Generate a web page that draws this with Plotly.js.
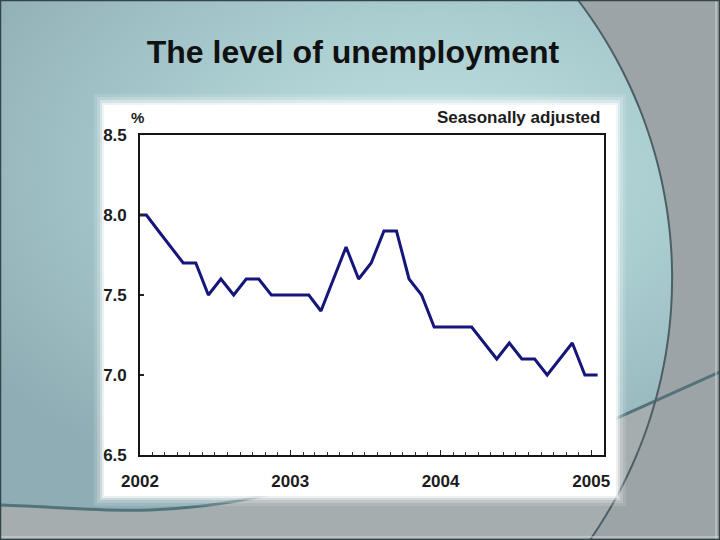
<!DOCTYPE html>
<html>
<head>
<meta charset="utf-8">
<script src="https://cdn.plot.ly/plotly-3.0.1.min.js"></script>
<style>
  html, body { margin: 0; padding: 0; }
  #chart {
    width: 720px; height: 540px;
    background: radial-gradient(ellipse 75% 65% at 60% 32%, #c3e2e3 0%, #aacdd0 45%, #8fadb4 100%);
  }
</style>
</head>
<body>
<div id="chart"></div>
<script>
// ---- data (monthly, seasonally adjusted unemployment rate, %) ----
const months = [
  '2001-12',
  '2002-01','2002-02','2002-03','2002-04','2002-05','2002-06',
  '2002-07','2002-08','2002-09','2002-10','2002-11','2002-12',
  '2003-01','2003-02','2003-03','2003-04','2003-05','2003-06',
  '2003-07','2003-08','2003-09','2003-10','2003-11','2003-12',
  '2004-01','2004-02','2004-03','2004-04','2004-05','2004-06',
  '2004-07','2004-08','2004-09','2004-10','2004-11','2004-12',
  '2005-01'
];
const rate = [
  8.0,
  8.0, 7.9, 7.8, 7.7, 7.7, 7.5,
  7.6, 7.5, 7.6, 7.6, 7.5, 7.5,
  7.5, 7.5, 7.4, 7.6, 7.8, 7.6,
  7.7, 7.9, 7.9, 7.6, 7.5, 7.3,
  7.3, 7.3, 7.3, 7.2, 7.1, 7.2,
  7.1, 7.1, 7.0, 7.1, 7.2, 7.0,
  7.0
];
const yTicks = [6.5, 7.0, 7.5, 8.0, 8.5];
const titleText = 'The level of unemployment';
const unitText = '%';
const noteText = 'Seasonally adjusted';

// ---- geometry helpers for slide decoration (pixel -> paper) ----
const L = 140, R = 604, T = 135, B = 455;
const fx = X => (X - L) / (R - L);
const fy = Y => (B - Y) / (B - T);
const pt = (X, Y) => fx(X).toFixed(4) + ',' + fy(Y).toFixed(4);

// big arc on the right
const cx = 214, cy = 278.2, rr = 458.1;
const arcPts = [];
for (let Y = 0; Y <= 540; Y += 6) {
  arcPts.push([cx + Math.sqrt(rr * rr - (Y - cy) * (Y - cy)), Y]);
}
const arcLine = 'M ' + arcPts.map(p => pt(p[0], p[1])).join(' L ');
const arcRegion = arcLine + ' L ' + pt(722, 542) + ' L ' + pt(722, -2) + ' Z';

// bottom swoosh
const swoosh = 'M ' + pt(-2, 505) + ' C ' + pt(60, 507) + ' ' + pt(100, 512) + ' ' + pt(150, 510) +
  ' C ' + pt(220, 507) + ' ' + pt(260, 497) + ' ' + pt(300, 487) +
  ' L ' + pt(617, 418) + ' L ' + pt(722, 371);
const swooshRegion = swoosh + ' L ' + pt(722, 542) + ' L ' + pt(-2, 542) + ' Z';

function rectPx(x0, y0, x1, y1, fill, opacity) {
  return {type: 'rect', xref: 'paper', yref: 'paper', layer: 'below',
    x0: fx(x0), x1: fx(x1), y0: fy(y1), y1: fy(y0),
    fillcolor: fill, opacity: opacity, line: {width: 0}};
}

const shapes = [
  {type: 'path', xref: 'paper', yref: 'paper', layer: 'below', path: swooshRegion,
    fillcolor: '#a5adaf', line: {width: 0}},
  {type: 'path', xref: 'paper', yref: 'paper', layer: 'below', path: arcRegion,
    fillcolor: '#9ca4a7', line: {width: 0}},
  {type: 'path', xref: 'paper', yref: 'paper', layer: 'below', path: swoosh,
    line: {color: '#52737a', width: 3}},
  {type: 'path', xref: 'paper', yref: 'paper', layer: 'below', path: arcLine,
    line: {color: '#4b5f65', width: 2}},
  {type: 'line', xref: 'paper', yref: 'paper', layer: 'below',
    x0: fx(716), x1: fx(716), y0: fy(0), y1: fy(540), line: {color: '#d2d8d9', width: 1}},
  {type: 'line', xref: 'paper', yref: 'paper', layer: 'below',
    x0: fx(0), x1: fx(720), y0: fy(537), y1: fy(537), line: {color: '#d2d8d9', width: 1}},
  {type: 'rect', xref: 'paper', yref: 'paper', layer: 'below',
    x0: fx(0.5), x1: fx(719.5), y0: fy(539.5), y1: fy(0.5),
    line: {color: '#33454a', width: 1.5}},
  rectPx(94, 94, 626, 506, '#ffffff', 0.12),
  rectPx(97, 97, 623, 503, '#ffffff', 0.2),
  rectPx(100, 100, 620, 500, '#ffffff', 0.35),
  rectPx(102, 103, 618, 498, '#ffffff', 0.6),
  rectPx(104, 105, 616, 496, '#ffffff', 1)
];

const tickFont = {family: 'Liberation Sans, Arial, sans-serif', size: 17, color: '#1c1c1c', weight: 'bold'};

const trace = {
  x: months, y: rate, type: 'scatter', mode: 'lines',
  xperiod: 'M1', xperiodalignment: 'middle',
  line: {color: '#15157a', width: 3},
  hoverinfo: 'skip'
};

const layout = {
  width: 720, height: 540,
  margin: {l: L, r: 720 - R, t: T, b: 540 - B, pad: 0},
  paper_bgcolor: 'rgba(0,0,0,0)',
  plot_bgcolor: '#ffffff',
  showlegend: false,
  title: {
    text: titleText,
    font: {family: 'Liberation Sans, Arial, sans-serif', size: 32, color: '#111111', weight: 'bold'},
    x: 353 / 720, xanchor: 'center', xref: 'container',
    y: 1 - 52 / 540, yanchor: 'middle', yref: 'container'
  },
  xaxis: {
    type: 'date',
    range: ['2002-01-01', '2005-02-01'],
    tick0: '2002-01-01', dtick: 'M12', tickformat: '%Y',
    ticks: 'inside', ticklen: 5, tickwidth: 1.2, tickcolor: '#222',
    minor: {dtick: 'M1', tick0: '2002-01-01', ticks: 'inside', ticklen: 3, tickwidth: 1, tickcolor: '#333', showgrid: false},
    showline: true, linecolor: '#151515', linewidth: 1.8, mirror: true,
    showgrid: false, zeroline: false,
    tickfont: tickFont, ticklabelstandoff: 10,
    fixedrange: true
  },
  yaxis: {
    range: [6.5, 8.5],
    tickvals: yTicks, tickformat: '.1f',
    ticks: 'inside', ticklen: 4, tickwidth: 1.2, tickcolor: '#222',
    showline: true, linecolor: '#151515', linewidth: 1.8, mirror: true,
    showgrid: false, zeroline: false,
    tickfont: tickFont, ticklabelstandoff: 8,
    fixedrange: true
  },
  annotations: [
    {text: unitText, xref: 'paper', yref: 'paper', x: fx(137), y: fy(118),
      xanchor: 'center', yanchor: 'middle', showarrow: false,
      font: {family: 'Liberation Sans, Arial, sans-serif', size: 15, color: '#1c1c1c', weight: 'bold'}},
    {text: noteText, xref: 'paper', yref: 'paper', x: fx(602), y: fy(117),
      xanchor: 'right', yanchor: 'middle', showarrow: false,
      font: {family: 'Liberation Sans, Arial, sans-serif', size: 17, color: '#1c1c1c', weight: 'bold'}}
  ],
  shapes: shapes
};

Plotly.newPlot('chart', [trace], layout, {displayModeBar: false, staticPlot: true});
</script>
</body>
</html>
